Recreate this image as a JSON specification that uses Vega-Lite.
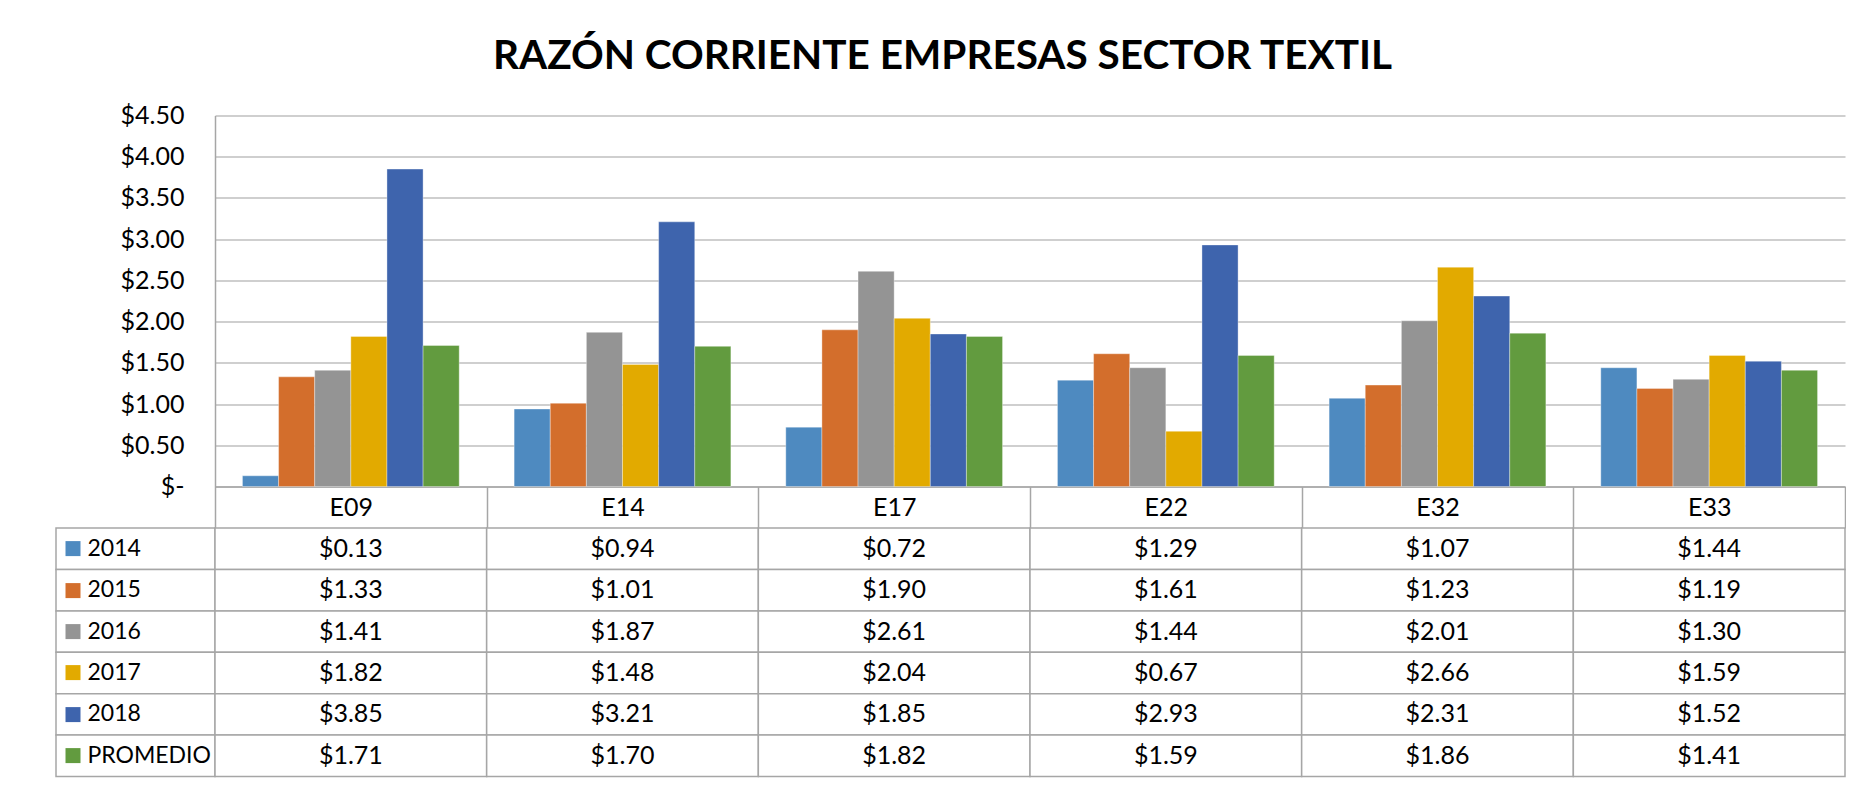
{
  "$schema": "https://vega.github.io/schema/vega-lite/v6.json",
  "padding": {"left": 55, "top": 36.5, "right": 0, "bottom": 0},
  "background": "white",
  "title": {
    "text": "RAZÓN CORRIENTE EMPRESAS SECTOR TEXTIL",
    "font": "Lato", "fontWeight": "bold", "fontSize": 40.5, "color": "black",
    "anchor": "middle", "baseline": "alphabetic", "offset": -6, "dx": -8
  },
  "datasets": {
    "tbl": [
      {"empresa": "E09", "serie": "2014", "valor": 0.13},
      {"empresa": "E09", "serie": "2015", "valor": 1.33},
      {"empresa": "E09", "serie": "2016", "valor": 1.41},
      {"empresa": "E09", "serie": "2017", "valor": 1.82},
      {"empresa": "E09", "serie": "2018", "valor": 3.85},
      {"empresa": "E09", "serie": "PROMEDIO", "valor": 1.71},
      {"empresa": "E14", "serie": "2014", "valor": 0.94},
      {"empresa": "E14", "serie": "2015", "valor": 1.01},
      {"empresa": "E14", "serie": "2016", "valor": 1.87},
      {"empresa": "E14", "serie": "2017", "valor": 1.48},
      {"empresa": "E14", "serie": "2018", "valor": 3.21},
      {"empresa": "E14", "serie": "PROMEDIO", "valor": 1.70},
      {"empresa": "E17", "serie": "2014", "valor": 0.72},
      {"empresa": "E17", "serie": "2015", "valor": 1.90},
      {"empresa": "E17", "serie": "2016", "valor": 2.61},
      {"empresa": "E17", "serie": "2017", "valor": 2.04},
      {"empresa": "E17", "serie": "2018", "valor": 1.85},
      {"empresa": "E17", "serie": "PROMEDIO", "valor": 1.82},
      {"empresa": "E22", "serie": "2014", "valor": 1.29},
      {"empresa": "E22", "serie": "2015", "valor": 1.61},
      {"empresa": "E22", "serie": "2016", "valor": 1.44},
      {"empresa": "E22", "serie": "2017", "valor": 0.67},
      {"empresa": "E22", "serie": "2018", "valor": 2.93},
      {"empresa": "E22", "serie": "PROMEDIO", "valor": 1.59},
      {"empresa": "E32", "serie": "2014", "valor": 1.07},
      {"empresa": "E32", "serie": "2015", "valor": 1.23},
      {"empresa": "E32", "serie": "2016", "valor": 2.01},
      {"empresa": "E32", "serie": "2017", "valor": 2.66},
      {"empresa": "E32", "serie": "2018", "valor": 2.31},
      {"empresa": "E32", "serie": "PROMEDIO", "valor": 1.86},
      {"empresa": "E33", "serie": "2014", "valor": 1.44},
      {"empresa": "E33", "serie": "2015", "valor": 1.19},
      {"empresa": "E33", "serie": "2016", "valor": 1.30},
      {"empresa": "E33", "serie": "2017", "valor": 1.59},
      {"empresa": "E33", "serie": "2018", "valor": 1.52},
      {"empresa": "E33", "serie": "PROMEDIO", "valor": 1.41}
    ]
  },
  "columns": 2,
  "bounds": "flush",
  "align": "each",
  "spacing": {"row": 41.6, "column": 0},
  "concat": [
    {
      "width": 159, "height": 371,
      "data": {"name": "tbl"},
      "mark": {"type": "point", "opacity": 0},
      "encoding": {}
    },
    {
      "width": 1630, "height": 371,
      "data": {"name": "tbl"},
      "mark": {"type": "bar", "stroke": "white", "strokeWidth": 1, "strokeOpacity": 0.35},
      "encoding": {
        "x": {
          "field": "empresa", "type": "nominal",
          "scale": {"paddingInner": 0, "paddingOuter": 0},
          "axis": {
            "title": null, "labelAngle": 0, "orient": "bottom",
            "domainColor": "#A6A6A6", "domainWidth": 1.5,
            "ticks": true, "tickBand": "extent", "tickSize": 41.6, "tickColor": "#A6A6A6", "tickWidth": 1.5,
            "labelFont": "Lato", "labelFontSize": 25, "labelColor": "black",
            "labelBaseline": "middle", "labelPadding": -20.8
          }
        },
        "xOffset": {
          "field": "serie", "type": "nominal",
          "sort": ["2014", "2015", "2016", "2017", "2018", "PROMEDIO"],
          "scale": {"paddingInner": 0, "paddingOuter": 0.76}
        },
        "y": {
          "field": "valor", "type": "quantitative",
          "scale": {"domain": [0, 4.5], "nice": false},
          "axis": {
            "title": null,
            "values": [0, 0.5, 1, 1.5, 2, 2.5, 3, 3.5, 4, 4.5],
            "labelExpr": "datum.value == 0 ? '$-\u00a0\u00a0' : '$' + format(datum.value, '.2f')",
            "ticks": false, "labelPadding": 31,
            "domainColor": "#A6A6A6", "domainWidth": 1.5,
            "grid": true, "gridColor": "#BFBFBF", "gridWidth": 1.5,
            "labelFont": "Lato", "labelFontSize": 25, "labelColor": "black"
          }
        },
        "color": {
          "field": "serie", "type": "nominal",
          "scale": {
            "domain": ["2014", "2015", "2016", "2017", "2018", "PROMEDIO"],
            "range": ["#4E8AC0", "#D36E2C", "#949494", "#E2AA00", "#3E64AD", "#629B3F"]
          },
          "legend": null
        }
      }
    },
    {
      "width": 159, "height": 248.4,
      "data": {"name": "tbl"},
      "transform": [{"filter": "datum.empresa == 'E09'"}],
      "mark": {"type": "rect", "fill": "white", "stroke": "#A6A6A6", "strokeWidth": 1.5},
      "encoding": {
        "y": {
          "field": "serie", "type": "nominal",
          "sort": ["2014", "2015", "2016", "2017", "2018", "PROMEDIO"],
          "scale": {"paddingInner": 0, "paddingOuter": 0},
          "axis": {
            "title": null, "orient": "left", "offset": -24, "zindex": 2,
            "domain": false, "grid": false,
            "ticks": true, "tickSize": 15, "tickWidth": 15, "tickCap": "butt",
            "tickColor": {
              "condition": [
                {"test": "datum.value === '2014'", "value": "#4E8AC0"},
                {"test": "datum.value === '2015'", "value": "#D36E2C"},
                {"test": "datum.value === '2016'", "value": "#949494"},
                {"test": "datum.value === '2017'", "value": "#E2AA00"},
                {"test": "datum.value === '2018'", "value": "#3E64AD"}
              ],
              "value": "#629B3F"
            },
            "labelAlign": "left", "labelPadding": -22,
            "labelFont": "Lato", "labelFontSize": 23, "labelColor": "black"
          }
        }
      }
    },
    {
      "width": 1630, "height": 248.4,
      "data": {"name": "tbl"},
      "encoding": {
        "x": {"field": "empresa", "type": "nominal", "scale": {"paddingInner": 0, "paddingOuter": 0}, "axis": null},
        "y": {
          "field": "serie", "type": "nominal",
          "sort": ["2014", "2015", "2016", "2017", "2018", "PROMEDIO"],
          "scale": {"paddingInner": 0, "paddingOuter": 0}, "axis": null
        }
      },
      "layer": [
        {"mark": {"type": "rect", "fill": "white", "stroke": "#A6A6A6", "strokeWidth": 1.5}},
        {
          "mark": {"type": "text", "font": "Lato", "fontSize": 25, "color": "black", "baseline": "middle"},
          "encoding": {"text": {"field": "valor", "type": "quantitative", "format": "$.2f"}}
        }
      ]
    }
  ],
  "config": {
    "view": {"stroke": null},
    "font": "Lato"
  }
}
